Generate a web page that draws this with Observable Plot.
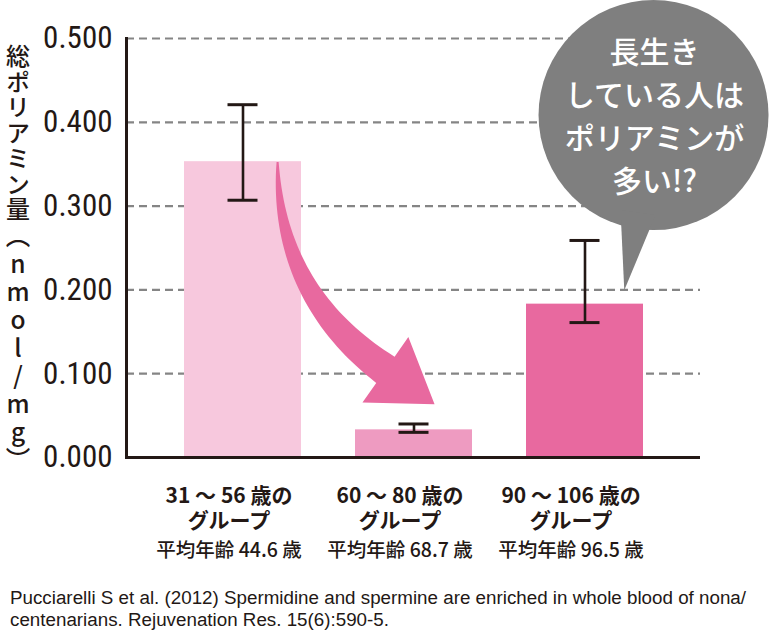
<!DOCTYPE html>
<html><head><meta charset="utf-8">
<script src="https://cdn.jsdelivr.net/npm/d3@7"></script>
<script src="https://cdn.jsdelivr.net/npm/@observablehq/plot@0.6"></script>
<style>
body{margin:0;background:#fff;}
#cite{margin:12px 0 0 10px;font-family:"Liberation Sans",Arial,sans-serif;font-size:18.8px;line-height:22px;color:#231815;}
</style></head><body>
<div id="chart"></div>
<div id="cite"></div>
<script>
const groups = ["31～56歳", "60～80歳", "90～106歳"];
const labelLine1 = ["31 ～ 56 歳の", "60 ～ 80 歳の", "90 ～ 106 歳の"];
const labelLine2 = ["グループ", "グループ", "グループ"];
const labelLine3 = ["平均年齢 44.6 歳", "平均年齢 68.7 歳", "平均年齢 96.5 歳"];
const means = [0.353, 0.033, 0.183];
const errLow = [0.307, 0.030, 0.161];
const errHigh = [0.421, 0.040, 0.259];
const barColors = ["#f7c8dd", "#ee9bc1", "#e8699f"];
const yTicks = [0, 0.1, 0.2, 0.3, 0.4, 0.5];
const yTitleMain = "総ポリアミン量";
const yTitleUnit = "（nmol/mg）";
const bubbleLines = ["長生き", "している人は", "ポリアミンが", "多い!?"];
const citationLines = [
  "Pucciarelli S et al. (2012) Spermidine and spermine are enriched in whole blood of nona/",
  "centenarians. Rejuvenation Res. 15(6):590-5."
];
// annotation anchors in data space (group + fraction of band, value)
const arrowFrom = {group: groups[0], bandPos: 0.8, value: 0.352};
const arrowTo = {group: groups[1], bandPos: 0.68, value: 0.063};
const bubbleCenter = {group: groups[2], bandPos: 1.09, value: 0.408};
const bubbleTip = {group: groups[2], bandPos: 0.84, value: 0.199};

const data = groups.map((g, i) => ({g, v: means[i], lo: errLow[i], hi: errHigh[i], c: barColors[i],
  l1: labelLine1[i], l2: labelLine2[i], l3: labelLine3[i]}));

const INK = "#231815";
const PINK = "#e8699f";
const GRAY = "#7f7f7f";

function yTitleMark(index, scales, values, dims) {
  const t = d3.create("svg:text")
    .attr("x", dims.marginLeft - 108)
    .attr("y", dims.marginTop + 6)
    .attr("fill", INK)
    .attr("text-anchor", "start")
    .attr("font-family", "'Noto Sans CJK JP', sans-serif")
    .attr("font-weight", 500)
    .attr("font-size", 24)
    .attr("style", "writing-mode: vertical-rl; text-orientation: upright;");
  t.append("tspan").attr("style", "letter-spacing: 1.5px;").text(yTitleMain);
  t.append("tspan").attr("style", "letter-spacing: 3.5px;").attr("font-size", 24.5).text(yTitleUnit);
  return t.node();
}

function annotations(index, scales, values, dims) {
  const x = scales.x, y = scales.y;
  const bw = typeof x.bandwidth === "function" ? x.bandwidth() : scales.scales.x.bandwidth;
  const px = a => [x(a.group) + a.bandPos * bw, y(a.value)];
  const g = d3.create("svg:g");

  // curved tapered arrow
  const S = px(arrowFrom), T = px(arrowTo);
  const ang = 35 * Math.PI / 180;
  const u = [Math.cos(ang), Math.sin(ang)];
  const headLen = 60, headHalf = 40;
  const M = [T[0] - u[0] * headLen, T[1] - u[1] * headLen];
  const C = [S[0], M[1] - (M[0] - S[0]) * Math.tan(ang)];
  const N = 40, sideA = [], sideB = [];
  for (let i = 0; i <= N; i++) {
    const t = i / N;
    const bx = (1 - t) ** 2 * S[0] + 2 * t * (1 - t) * C[0] + t * t * M[0];
    const by = (1 - t) ** 2 * S[1] + 2 * t * (1 - t) * C[1] + t * t * M[1];
    const dx = 2 * (1 - t) * (C[0] - S[0]) + 2 * t * (M[0] - C[0]);
    const dy = 2 * (1 - t) * (C[1] - S[1]) + 2 * t * (M[1] - C[1]);
    const L = Math.hypot(dx, dy) || 1;
    const nx = -dy / L, ny = dx / L;
    const w = 1 + 15 * Math.pow(t, 0.9);
    sideA.push([bx + nx * w, by + ny * w]);
    sideB.push([bx - nx * w, by - ny * w]);
  }
  const n = [-u[1], u[0]];
  const pts = [...sideA,
    [M[0] + n[0] * headHalf, M[1] + n[1] * headHalf],
    T,
    [M[0] - n[0] * headHalf, M[1] - n[1] * headHalf],
    ...sideB.reverse()];
  g.append("path").attr("d", "M" + pts.map(p => p.join(",")).join("L") + "Z").attr("fill", PINK);

  // speech bubble
  const [cx, cy] = px(bubbleCenter);
  const r = 115;
  const tip = px(bubbleTip);
  g.append("circle").attr("cx", cx).attr("cy", cy).attr("r", r).attr("fill", GRAY);
  g.append("path")
    .attr("d", `M${cx - 33},${cy + 95}L${cx + 2},${cy + 100}L${tip[0]},${tip[1]}Z`)
    .attr("fill", GRAY);
  const tx = g.append("text")
    .attr("fill", "#fff")
    .attr("text-anchor", "middle")
    .attr("font-family", "'Noto Sans CJK JP', sans-serif")
    .attr("font-weight", 500)
    .attr("font-size", 30);
  bubbleLines.forEach((line, i) => {
    tx.append("tspan").attr("x", cx + 1).attr("y", cy - 52 + i * 43).text(line);
  });
  return g.node();
}

const chart = Plot.plot({
  width: 770,
  height: 575,
  marginLeft: 126,
  marginRight: 70,
  marginTop: 38,
  marginBottom: 118,
  style: {background: "#fff", overflow: "visible"},
  x: {domain: groups, paddingInner: 0.316, paddingOuter: 0.336, axis: null},
  y: {domain: [0, 0.5], axis: null},
  marks: [
    Plot.ruleY(yTicks.filter(d => d > 0), {stroke: "#858585", strokeWidth: 2.2, strokeDasharray: "8,5"}),
    Plot.barY(data, {x: "g", y: "v", fill: "c"}),
    Plot.ruleX(data, {x: "g", y1: "lo", y2: "hi", stroke: INK, strokeWidth: 2.6}),
    Plot.tickY(data, {x: "g", y: "lo", stroke: INK, strokeWidth: 3, insetLeft: 43.5, insetRight: 43.5}),
    Plot.tickY(data, {x: "g", y: "hi", stroke: INK, strokeWidth: 3, insetLeft: 43.5, insetRight: 43.5}),
    annotations,
    Plot.ruleY([0], {stroke: INK, strokeWidth: 3}),
    Plot.frame({anchor: "left", stroke: INK, strokeWidth: 3}),
    Plot.axisY({ticks: yTicks, tickFormat: d => d.toFixed(3), tickSize: 0, tickPadding: 14,
      fontSize: 31, fill: INK, fontFamily: "'Liberation Sans Narrow', 'Roboto Condensed', Roboto, sans-serif", fontWeight: "normal"}),
    Plot.text(data, {x: "g", y: () => 0, text: "l1", dx: -14, dy: 39, lineAnchor: "middle", fill: INK,
      fontFamily: "'Noto Sans CJK JP', sans-serif", fontWeight: "bold", fontSize: 21}),
    Plot.text(data, {x: "g", y: () => 0, text: "l2", dx: -14, dy: 64, lineAnchor: "middle", fill: INK,
      fontFamily: "'Noto Sans CJK JP', sans-serif", fontWeight: "bold", fontSize: 21}),
    Plot.text(data, {x: "g", y: () => 0, text: "l3", dx: -14, dy: 93, lineAnchor: "middle", fill: INK,
      fontFamily: "'Noto Sans CJK JP', sans-serif", fontWeight: 500, fontSize: 19.5}),
    yTitleMark
  ]
});
document.getElementById("chart").appendChild(chart);
d3.select("#cite").selectAll("div").data(citationLines).join("div").text(d => d);
</script>
</body></html>
